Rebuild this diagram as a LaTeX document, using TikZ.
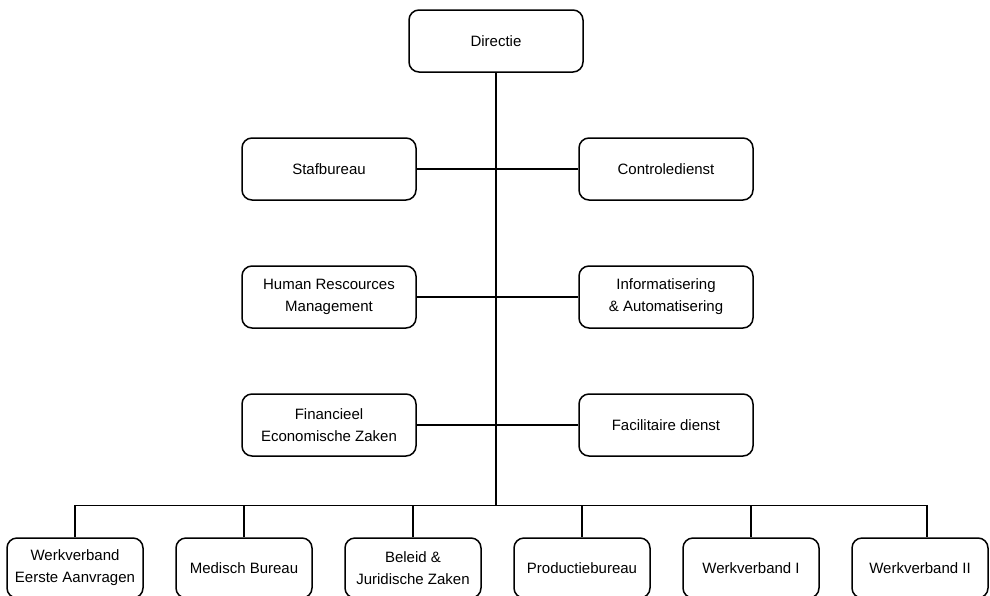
\documentclass[tikz,border=0pt]{standalone}
\usepackage{fontspec}
\setmainfont{Liberation Sans}
\usetikzlibrary{chains,positioning,calc}

\begin{document}
\begin{tikzpicture}[x=1pt,y=-1pt,line width=1.5pt]
    \tikzstyle{unit}=[draw,rounded corners=10pt,align=center,font=\fontsize{15}{22}\selectfont]
    \tikzstyle{staf}=[unit,minimum width=174pt,minimum height=62pt]
    \tikzstyle{afd}=[unit,minimum width=136pt,minimum height=60pt]

    \clip (0,0) rectangle (990,595);

    % top and staff units
    \node[staf] (dir)  at (496,41)  {Directie};
    \node[staf] (staf) at (329,169) {Stafbureau};
    \node[staf] (ctrl) at (666,169) {Controledienst};
    \node[staf] (hrm)  at (329,297) {Human Rescources\\Management};
    \node[staf] (ia)   at (666,297) {Informatisering\\\& Automatisering};
    \node[staf] (fez)  at (329,425) {Financieel\\Economische Zaken};
    \node[staf] (fac)  at (666,425) {Facilitaire dienst};

    % line departments
    \begin{scope}[start chain=1 going right,node distance=31.5pt]
      \node[on chain=1,afd] (w1) at (75,568) {Werkverband\\Eerste Aanvragen};
      \node[on chain=1,afd] (w2) {Medisch Bureau};
      \node[on chain=1,afd] (w3) {Beleid \&\\Juridische Zaken};
      \node[on chain=1,afd] (w4) {Productiebureau};
      \node[on chain=1,afd] (w5) {Werkverband I};
      \node[on chain=1,afd] (w6) {Werkverband II};
    \end{scope}

    \coordinate (busL) at ($(w1.north)+(0,-32)$);
    \coordinate (busR) at ($(busL)+(852,0)$);
    \coordinate (w6top) at (w6.north -| busR);

    \draw (dir.south) -- (dir.south |- busL);
    \draw (staf.east) -- (ctrl.west);
    \draw (hrm.east) -- (ia.west);
    \draw (fez.east) -- (fac.west);
    \draw (w1.north) -- (busL) -- (busR) -- (w6top);
    \foreach \n in {w2,w3,w4,w5}
      \draw (\n.north) -- (\n.north |- busL);
\end{tikzpicture}
\end{document}
